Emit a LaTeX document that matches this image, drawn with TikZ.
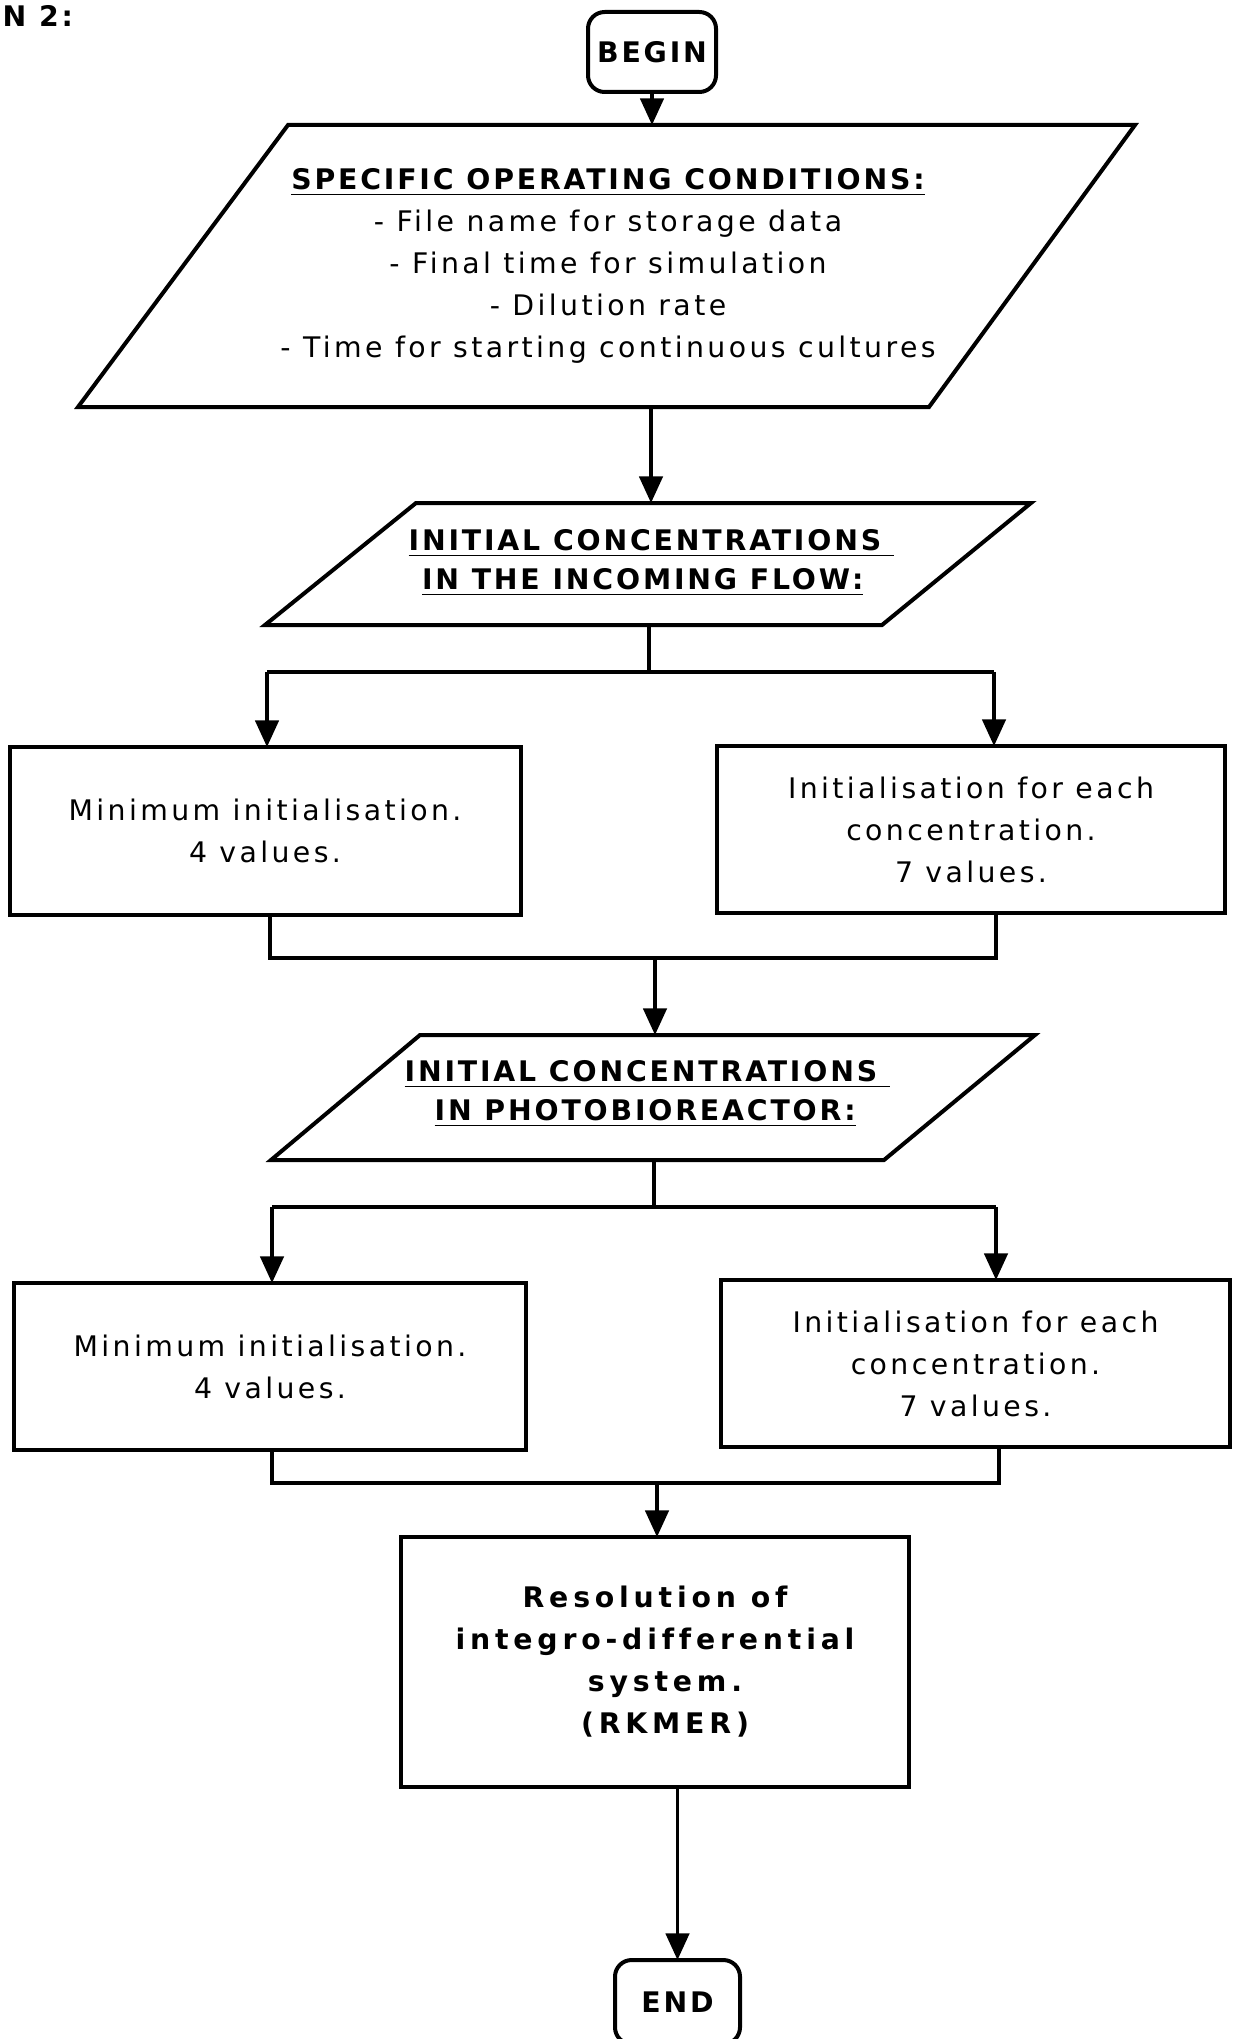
\documentclass[tikz,border=0pt]{standalone}
\usepackage{fontspec}
\setmainfont{DejaVu Sans}
\newfontfamily\bodyfont{DejaVu Sans}[LetterSpace=12, Ligatures=NoCommon]
\newfontfamily\headfont{DejaVu Sans}[LetterSpace=10, Ligatures=NoCommon]
\newfontfamily\widefont{DejaVu Sans}[LetterSpace=17, Ligatures=NoCommon]
\usetikzlibrary{arrows.meta,calc}

\tikzset{
  flow/.style={line width=1.1pt},
  arr/.style={flow, -{Triangle[length=8pt,width=7pt]}},
  box/.style={draw, line width=1.2pt, rectangle, inner sep=0pt, outer sep=0pt,
    align=center, font={\bodyfont\fontsize{8.5}{12.6}\selectfont}},
  headbox/.style={box, font={\widefont\bfseries\fontsize{8.5}{12.6}\selectfont}},
  term/.style={draw, line width=1.2pt, rounded corners=5pt, inner sep=0pt, outer sep=0pt,
    font={\headfont\bfseries\fontsize{8.5}{12.6}\selectfont}},
  io/.style={line width=1.2pt, line join=miter},
  iotext/.style={inner sep=0pt, font={\headfont\bfseries\fontsize{8.5}{11.7}\selectfont}},
}

\begin{document}
\begin{tikzpicture}[x=0.3pt,y=-0.3pt]
\useasboundingbox (0,0) rectangle (1234,2039);
\clip (0,0) rectangle (1234,2039);

% caption fragment at the top left
\node[anchor=base west, inner sep=0pt, font={\headfont\bfseries\fontsize{8.5}{10}\selectfont}] (cap) at (2,27) {N 2:};

% start terminal
\node[term, minimum width=128*0.3pt, minimum height=80*0.3pt] (begin) at (652,52) {BEGIN};

% operating conditions (input parallelogram)
\coordinate (p1tl) at (288,125);
\coordinate (p1tr) at (1135,125);
\coordinate (p1br) at (929,407);
\coordinate (p1bl) at (78,407);
\draw[io] (p1tl) -- (p1tr) -- (p1br) -- (p1bl) -- cycle;
\coordinate (p1top) at (652,125);
\coordinate (p1bot) at (651,407);
\node[inner sep=0pt, align=center, font={\bodyfont\fontsize{8.5}{12.6}\selectfont}] (p1) at (608,266)
  {{\headfont\bfseries\underline{SPECIFIC OPERATING CONDITIONS:}}\\
   - File name for storage data\\
   - Final time for simulation\\
   - Dilution rate\\
   - Time for starting continuous cultures};

% incoming flow concentrations
\coordinate (p2tl) at (416,503);
\coordinate (p2tr) at (1031,503);
\coordinate (p2br) at (882,625);
\coordinate (p2bl) at (265,625);
\draw[io] (p2tl) -- (p2tr) -- (p2br) -- (p2bl) -- cycle;
\coordinate (p2top) at (651,503);
\coordinate (p2bot) at (649,625);
\node[iotext, anchor=west, align=left] (p2) at (408,563)
  {\underline{INITIAL CONCENTRATIONS\ }\\ \hspace*{4pt}\underline{IN THE INCOMING FLOW:}};

% first pair of initialisation boxes
\node[box, minimum width=511*0.3pt, minimum height=168*0.3pt] (L1) at (265,831)
  {Minimum initialisation.\\ 4 values.};
\node[box, minimum width=508*0.3pt, minimum height=167*0.3pt] (R1) at (971,829.5)
  {Initialisation for each\\ concentration.\\ 7 values.};

% photobioreactor concentrations
\coordinate (p3tl) at (420,1035);
\coordinate (p3tr) at (1035,1035);
\coordinate (p3br) at (884,1160);
\coordinate (p3bl) at (271,1160);
\draw[io] (p3tl) -- (p3tr) -- (p3br) -- (p3bl) -- cycle;
\coordinate (p3top) at (655,1035);
\coordinate (p3bot) at (654,1160);
\node[iotext, anchor=west, align=left] (p3) at (404,1094)
  {\underline{INITIAL CONCENTRATIONS\ }\\ \hspace*{9pt}\underline{IN PHOTOBIOREACTOR:}};

% second pair of initialisation boxes
\node[box, minimum width=512*0.3pt, minimum height=167*0.3pt] (L2) at (270,1366.5)
  {Minimum initialisation.\\ 4 values.};
\node[box, minimum width=509*0.3pt, minimum height=167*0.3pt] (R2) at (975.5,1363.5)
  {Initialisation for each\\ concentration.\\ 7 values.};

% solver
\node[headbox, minimum width=508*0.3pt, minimum height=250*0.3pt] (res) at (655,1662)
  {Resolution of\\ integro-differential\\ \hspace*{6pt}system.\\ \hspace*{6pt}(RKMER)};

% end terminal (runs past the lower edge)
\node[term, minimum width=125*0.3pt, minimum height=84*0.3pt] (end) at (677.5,2002) {END};

% connectors
\draw[arr] (begin.south) -- (begin.south |- p1top);
\draw[arr] (p1bot) -- (p1bot |- p2top);

\coordinate (s1) at (649,672);
\coordinate (s1l) at (267,672);
\coordinate (s1r) at (994,672);
\draw[flow] (p2bot) -- (s1);
\draw[flow] (s1l) -- (s1r);
\draw[arr] (s1l) -- (s1l |- L1.north);
\draw[arr] (s1r) -- (s1r |- R1.north);

\coordinate (m1) at (655,958);
\coordinate (m1l) at (270,958);
\coordinate (m1r) at (996,958);
\draw[flow] (m1l |- L1.south) -- (m1l) -- (m1r) -- (m1r |- R1.south);
\draw[arr] (m1) -- (p3top);

\coordinate (s2) at (654,1207);
\coordinate (s2l) at (272,1207);
\coordinate (s2r) at (996,1207);
\draw[flow] (p3bot) -- (s2);
\draw[flow] (s2l) -- (s2r);
\draw[arr] (s2l) -- (s2l |- L2.north);
\draw[arr] (s2r) -- (s2r |- R2.north);

\coordinate (m2) at (657,1483);
\coordinate (m2l) at (272,1483);
\coordinate (m2r) at (999,1483);
\draw[flow] (m2l |- L2.south) -- (m2l) -- (m2r) -- (m2r |- R2.south);
\draw[arr] (m2) -- (m2 |- res.north);

\draw[arr] (end.north |- res.south) -- (end.north);
\end{tikzpicture}
\end{document}
